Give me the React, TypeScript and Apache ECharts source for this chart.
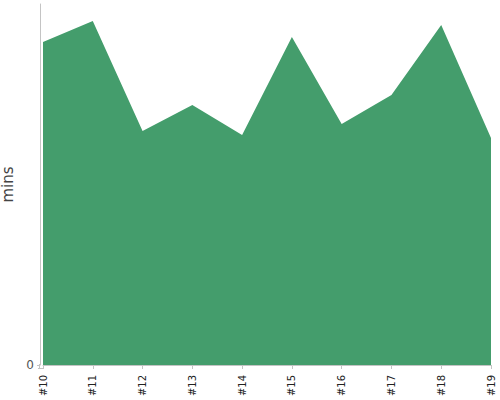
import React, { useEffect, useRef } from "react";
import * as echarts from "echarts";

const categories = ["#10", "#11", "#12", "#13", "#14", "#15", "#16", "#17", "#18", "#19"];
const values = [323, 344, 234, 260, 230, 328, 241, 270, 340, 227];
const yMax = 361;
const yAxisName = "mins";

export default function App() {
  const ref = useRef<HTMLDivElement>(null);
  useEffect(() => {
    if (!ref.current) return;
    const chart = echarts.init(ref.current, null, { renderer: "svg" });
    const axisColor = "#c4c4c4";
    chart.setOption({
      animation: false,
      grid: { left: 43, right: 9, top: 4, bottom: 35, containLabel: false, outerBoundsMode: "none" },
      xAxis: {
        type: "category",
        data: categories,
        boundaryGap: false,
        offset: 3,
        axisLine: { lineStyle: { color: axisColor, width: 1 } },
        axisTick: { show: true, length: 4, lineStyle: { color: axisColor } },
        axisLabel: {
          rotate: 90,
          fontSize: 10,
          color: "#222",
          fontFamily: "DejaVu Sans",
          margin: 7,
        },
        splitLine: { show: false },
      },
      yAxis: {
        type: "value",
        min: 0,
        max: yMax,
        offset: 3,
        name: yAxisName,
        nameLocation: "middle",
        nameGap: 19,
        nameTextStyle: { fontSize: 15, color: "#444", fontFamily: "DejaVu Sans" },
        axisLine: { show: true, lineStyle: { color: axisColor, width: 1 } },
        axisTick: { show: true, length: 3, customValues: [0], lineStyle: { color: axisColor } },
        axisLabel: { customValues: [0], fontSize: 12, color: "#555", fontFamily: "DejaVu Sans", margin: 6 },
        splitLine: { show: false },
      },
      graphic: [
        { type: "line", shape: { x1: 38, y1: 368.5, x2: 43, y2: 368.5 }, style: { stroke: axisColor, lineWidth: 1 }, silent: true },
        { type: "line", shape: { x1: 39.5, y1: 364, x2: 39.5, y2: 369 }, style: { stroke: axisColor, lineWidth: 1 }, silent: true },
      ],
      series: [
        {
          type: "line",
          data: values,
          symbol: "none",
          lineStyle: { width: 0 },
          areaStyle: { color: "#449d6c", opacity: 1 },
        },
      ],
    });
    return () => chart.dispose();
  }, []);
  return <div ref={ref} style={{ position: "absolute", left: 0, top: 0, width: 500, height: 400 }} />;
}
